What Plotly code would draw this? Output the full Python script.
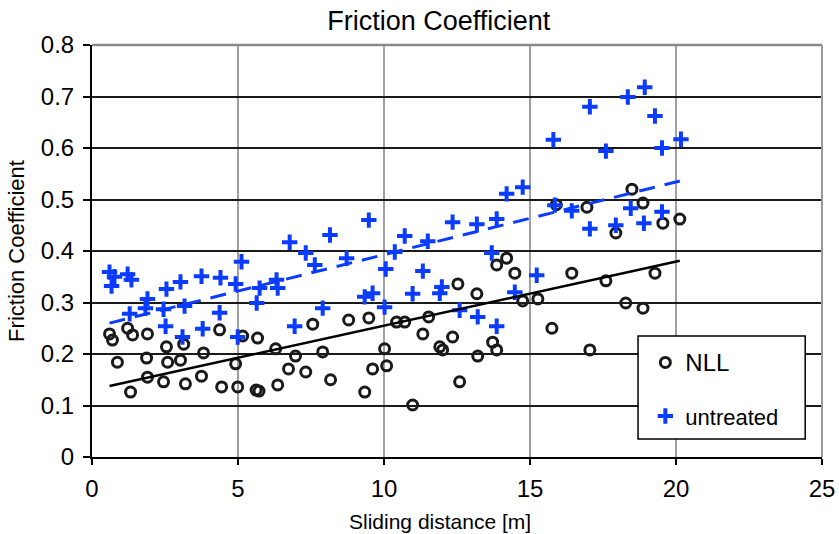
import plotly.graph_objects as go

# NLL-treated samples: sliding distance [m] and friction coefficient
nll_x = [0.60, 0.70, 1.22, 1.39, 1.90, 0.87, 1.87, 2.55, 2.59, 3.03, 3.14, 3.82, 4.37, 5.16, 4.92,
         1.90, 2.45, 3.20, 3.75, 4.44, 4.99, 1.32,
         5.67, 6.29, 6.97, 7.56, 7.90, 8.79, 9.48, 10.43, 10.02, 10.09, 9.61, 6.73, 7.32, 8.17,
         6.36, 5.62, 5.72, 9.34,
         14.20, 13.86, 14.48, 12.53, 13.18, 14.75, 15.27, 11.53, 10.71, 11.33, 12.35, 13.72, 13.86,
         11.91, 12.01, 13.21, 12.59, 10.98,
         18.49, 18.87, 16.95, 19.55, 20.13, 17.94, 16.43, 17.60, 19.28, 18.28, 18.87, 15.75, 17.05, 15.90]
nll_y = [0.239, 0.227, 0.250, 0.237, 0.239, 0.184, 0.192, 0.214, 0.184, 0.188, 0.219, 0.202, 0.247, 0.235, 0.181,
         0.155, 0.146, 0.142, 0.157, 0.136, 0.136, 0.126,
         0.231, 0.210, 0.196, 0.258, 0.204, 0.266, 0.270, 0.262, 0.210, 0.177, 0.171, 0.171, 0.165, 0.150,
         0.140, 0.130, 0.128, 0.126,
         0.386, 0.373, 0.357, 0.336, 0.317, 0.303, 0.307, 0.272, 0.262, 0.239, 0.233, 0.223, 0.208,
         0.214, 0.208, 0.196, 0.146, 0.101,
         0.520, 0.493, 0.485, 0.454, 0.462, 0.435, 0.357, 0.342, 0.357, 0.299, 0.289, 0.250, 0.208, 0.490]

# Untreated samples
untreated_x = [0.60, 0.77, 0.67, 1.22, 1.35, 1.90, 1.83, 1.29, 2.45, 2.55, 3.03, 3.75, 4.40, 4.92, 5.12,
               3.17, 4.37, 2.52, 3.10, 3.79, 4.99,
               6.77, 7.32, 7.63, 8.72, 10.37, 10.06, 6.32, 6.36, 5.74, 5.64, 9.34, 9.61, 10.02, 7.90, 6.94,
               11.33, 10.98, 11.98, 11.91, 13.69, 14.48, 15.23, 12.59, 13.21, 13.86,
               15.85, 16.43, 17.05, 17.94, 18.45, 18.90, 19.52,
               8.15, 9.48, 10.71, 11.50, 12.35, 13.18, 13.86, 14.20, 14.75, 15.80, 17.05, 17.60, 18.35,
               18.93, 19.28, 19.52, 20.17]
untreated_y = [0.359, 0.350, 0.332, 0.355, 0.344, 0.307, 0.289, 0.278, 0.287, 0.326, 0.340, 0.351, 0.348, 0.336, 0.379,
               0.293, 0.280, 0.254, 0.233, 0.249, 0.233,
               0.417, 0.396, 0.373, 0.386, 0.398, 0.365, 0.344, 0.328, 0.328, 0.299, 0.311, 0.318, 0.291, 0.289, 0.254,
               0.361, 0.317, 0.330, 0.318, 0.396, 0.320, 0.353, 0.285, 0.272, 0.254,
               0.489, 0.478, 0.443, 0.450, 0.483, 0.454, 0.476,
               0.431, 0.460, 0.429, 0.419, 0.456, 0.452, 0.462, 0.511, 0.524, 0.616, 0.680, 0.594, 0.699,
               0.718, 0.662, 0.600, 0.617]

# Linear trend lines (end points)
trend_x = [0.6, 20.13]
nll_trend = [0.138, 0.381]
untreated_trend = [0.260, 0.536]

x_ticks = [0, 5, 10, 15, 20, 25]
y_ticks = [0, 0.1, 0.2, 0.3, 0.4, 0.5, 0.6, 0.7, 0.8]

BLUE = "#0a3cff"
FONT = "Liberation Sans, Arial, sans-serif"

fig = go.Figure()

fig.add_trace(go.Scatter(
    x=nll_x, y=nll_y, mode="markers", name="<span style='font-size:24px'>NLL</span>", legendgroup="nll",
    marker=dict(symbol="circle-open", size=10, color="#1a1a1a", line=dict(width=3, color="#1a1a1a")),
))
fig.add_trace(go.Scatter(
    x=untreated_x, y=untreated_y, mode="markers", name="untreated", legendgroup="untreated",
    marker=dict(symbol="cross-thin", size=11, color=BLUE, line=dict(width=4, color=BLUE)),
))
fig.add_trace(go.Scatter(
    x=trend_x, y=nll_trend, mode="lines", showlegend=False,
    line=dict(color="black", width=2.5),
))
fig.add_trace(go.Scatter(
    x=trend_x, y=untreated_trend, mode="lines", showlegend=False,
    line=dict(color=BLUE, width=3, dash="16px,10px"),
))

# Plot frame (top and right) and legend box
fig.add_shape(type="line", xref="paper", yref="paper", x0=0, x1=1, y0=1, y1=1,
              line=dict(color="#8a8a8a", width=2.5), layer="above")
fig.add_shape(type="line", xref="paper", yref="paper", x0=1, x1=1, y0=0, y1=1,
              line=dict(color="#9a9a9a", width=2), layer="above")
fig.add_shape(type="rect", xref="paper", yref="paper", x0=0.748, x1=0.977, y0=0.0437, y1=0.2937,
              line=dict(color="black", width=1.5), fillcolor="white", layer="above")

# x-axis title, placed slightly left of the plot centre
fig.add_annotation(text="Sliding distance [m]", xref="paper", yref="paper", x=0.477, y=-0.157,
                   xanchor="center", yanchor="middle", showarrow=False,
                   font=dict(size=21, family=FONT, color="black"))

fig.update_layout(
    width=839, height=534,
    margin=dict(l=92, r=17, t=45, b=77, autoexpand=False),
    paper_bgcolor="white", plot_bgcolor="white",
    font=dict(family=FONT, color="black", size=22),
    title=dict(text="Friction Coefficient", x=0.523, xanchor="center", y=0.962, yanchor="middle",
               font=dict(size=27, family=FONT, color="black")),
    showlegend=True,
    legend=dict(x=0.758, y=0.28, xanchor="left", yanchor="top", bgcolor="rgba(0,0,0,0)",
                borderwidth=0, tracegroupgap=22, font=dict(size=22, family=FONT, color="black"),
                itemsizing="trace"),
    xaxis=dict(
        range=[0, 25], tickvals=x_ticks, ticktext=[str(v) for v in x_ticks],
        showgrid=True, gridcolor="#a0a0a0", gridwidth=2,
        showline=True, linecolor="black", linewidth=2,
        ticks="outside", ticklen=6, tickwidth=2, tickcolor="black",
        tickfont=dict(size=24), zeroline=False, ticklabelstandoff=3, automargin=False,
    ),
    yaxis=dict(
        range=[0, 0.8], tickvals=y_ticks, ticktext=["0" if v == 0 else f"{v:.1f}" for v in y_ticks],
        showgrid=True, gridcolor="#1a1a1a", gridwidth=2,
        showline=True, linecolor="black", linewidth=2,
        ticks="outside", ticklen=7, tickwidth=2, tickcolor="black",
        tickfont=dict(size=24), zeroline=False, ticklabelstandoff=4, automargin=False,
        title=dict(text="Friction Coefficient", font=dict(size=22), standoff=10),
    ),
)

fig.write_html("out.html")
